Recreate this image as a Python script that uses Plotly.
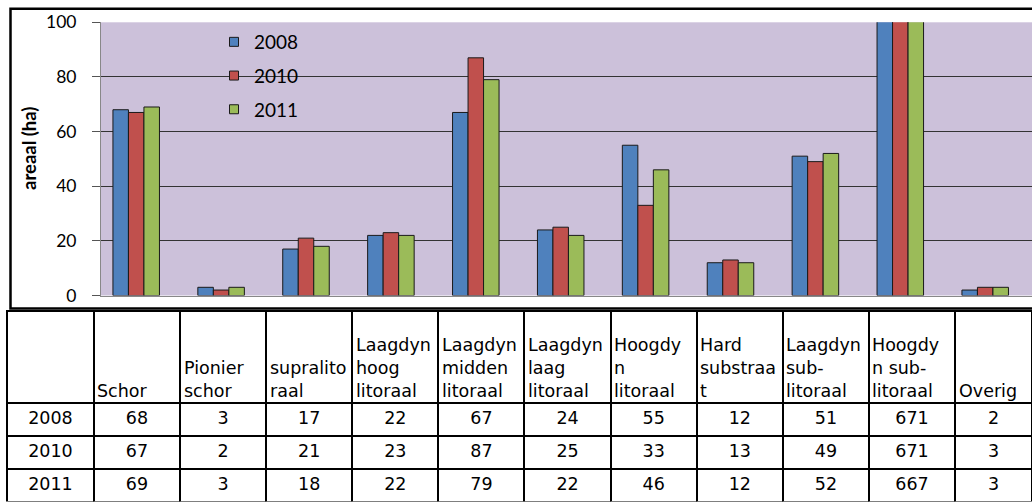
import plotly.graph_objects as go

W, H = 1032, 502

categories = ["Schor", "Pionier schor", "supralitoraal", "Laagdyn hoog litoraal",
              "Laagdyn midden litoraal", "Laagdyn laag litoraal", "Hoogdyn litoraal",
              "Hard substraat", "Laagdyn sub-litoraal", "Hoogdyn sub-litoraal", "Overig"]
header_labels = ["Schor", "Pionier<br>schor", "supralito<br>raal",
                 "Laagdyn<br>hoog<br>litoraal", "Laagdyn<br>midden<br>litoraal",
                 "Laagdyn<br>laag<br>litoraal", "Hoogdy<br>n<br>litoraal",
                 "Hard<br>substraa<br>t", "Laagdyn<br>sub-<br>litoraal",
                 "Hoogdy<br>n sub-<br>litoraal", "Overig"]
years = ["2008", "2010", "2011"]
v2008 = [68, 3, 17, 22, 67, 24, 55, 12, 51, 671, 2]
v2010 = [67, 2, 21, 23, 87, 25, 33, 13, 49, 671, 3]
v2011 = [69, 3, 18, 22, 79, 22, 46, 12, 52, 667, 3]
series = {"2008": v2008, "2010": v2010, "2011": v2011}
colors = {"2008": "#4F81BD", "2010": "#C0504D", "2011": "#9BBB59"}
yticks = [0, 20, 40, 60, 80, 100]

TABLE_FONT = dict(family="Verdana, DejaVu Sans", size=17.5, color="black")


def px_x(p):
    return p / W


def px_y(p):
    return 1 - p / H


fig = go.Figure()
for yr in years:
    fig.add_trace(go.Bar(
        x=list(range(len(categories))), y=series[yr], name=yr,
        marker=dict(color=colors[yr], line=dict(color="#1a1a1a", width=1)),
        legendgroup=yr, showlegend=False, hovertext=categories,
    ))
    # legend entry with a small square symbol, as in the original
    fig.add_trace(go.Scatter(
        x=[None], y=[None], mode="markers", name=yr, legendgroup=yr,
        marker=dict(symbol="square", size=9, color=colors[yr],
                    line=dict(color="#1a1a1a", width=1)),
    ))

# table: first column = year labels, then one column per category
col_w = [87] + [86.2] * 10 + [77]
tbl_left = 7
cols = [years] + [[str(series[y][k]) for y in years] for k in range(len(categories))]
fig.add_trace(go.Table(
    domain=dict(x=[px_x(tbl_left), 1], y=[0, px_y(310.5)]),
    columnwidth=col_w,
    header=dict(values=[""] * (len(categories) + 1), height=92,
                fill_color="white", line=dict(color="black", width=2),
                font=TABLE_FONT),
    cells=dict(values=cols, align="center", height=33,
               fill_color="white", line=dict(color="black", width=2),
               font=TABLE_FONT),
))

# header labels, bottom-aligned inside their header cells
scale = (W - tbl_left) / sum(col_w)
annotations = []
left = tbl_left + col_w[0] * scale
for k, lab in enumerate(header_labels):
    annotations.append(dict(
        text=lab, x=px_x(left + 1.5), y=px_y(402.5), xref="paper", yref="paper",
        xanchor="left", yanchor="bottom", align="left", showarrow=False,
        font=TABLE_FONT,
    ))
    left += col_w[k + 1] * scale

annotations.append(dict(text="<b>areaal (ha)</b>", textangle=-90, x=px_x(29), y=px_y(149),
                        xref="paper", yref="paper", xanchor="center", yanchor="middle",
                        showarrow=False, font=dict(size=18.5, color="#000")))

x0 = (101 - 93.75) / 84.9 - 0.5
x1 = (1032 - 93.75) / 84.9 - 0.5

fig.update_layout(
    width=W, height=H,
    margin=dict(l=0, r=0, t=0, b=0, autoexpand=False),
    paper_bgcolor="white",
    plot_bgcolor="#CCC1DA",
    barmode="group", bargap=0.452, bargroupgap=0,
    font=dict(family="Lato, Open Sans, sans-serif", color="#000"),
    showlegend=True,
    legend=dict(x=px_x(214), y=px_y(23), xanchor="left", yanchor="top",
                bgcolor="rgba(0,0,0,0)", font=dict(size=19, color="#000"),
                tracegroupgap=6, itemwidth=30, itemsizing="trace"),
    xaxis=dict(domain=[px_x(101), 1], range=[x0, x1], showticklabels=False,
               showgrid=False, zeroline=False, showline=True, linecolor="#888",
               linewidth=1, ticks="", automargin=False),
    yaxis=dict(domain=[px_y(295.5), px_y(22.3)], range=[0, 100], tickvals=yticks,
               showgrid=True, gridcolor="#333", gridwidth=1, zeroline=False,
               showline=True, linecolor="#888", linewidth=1, automargin=False,
               ticks="outside", ticklen=8, tickcolor="#555",
               tickfont=dict(size=17.5, color="#000"), ticklabelstandoff=12),
    annotations=annotations,
    shapes=[dict(type="rect", xref="paper", yref="paper", x0=px_x(10.5), x1=px_x(1045),
                 y0=px_y(308.5), y1=px_y(8.8), line=dict(color="black", width=2.5),
                 layer="below")],
)

fig.write_html("out.html", config={"displayModeBar": False},
               post_script="document.body.style.margin='0';")
